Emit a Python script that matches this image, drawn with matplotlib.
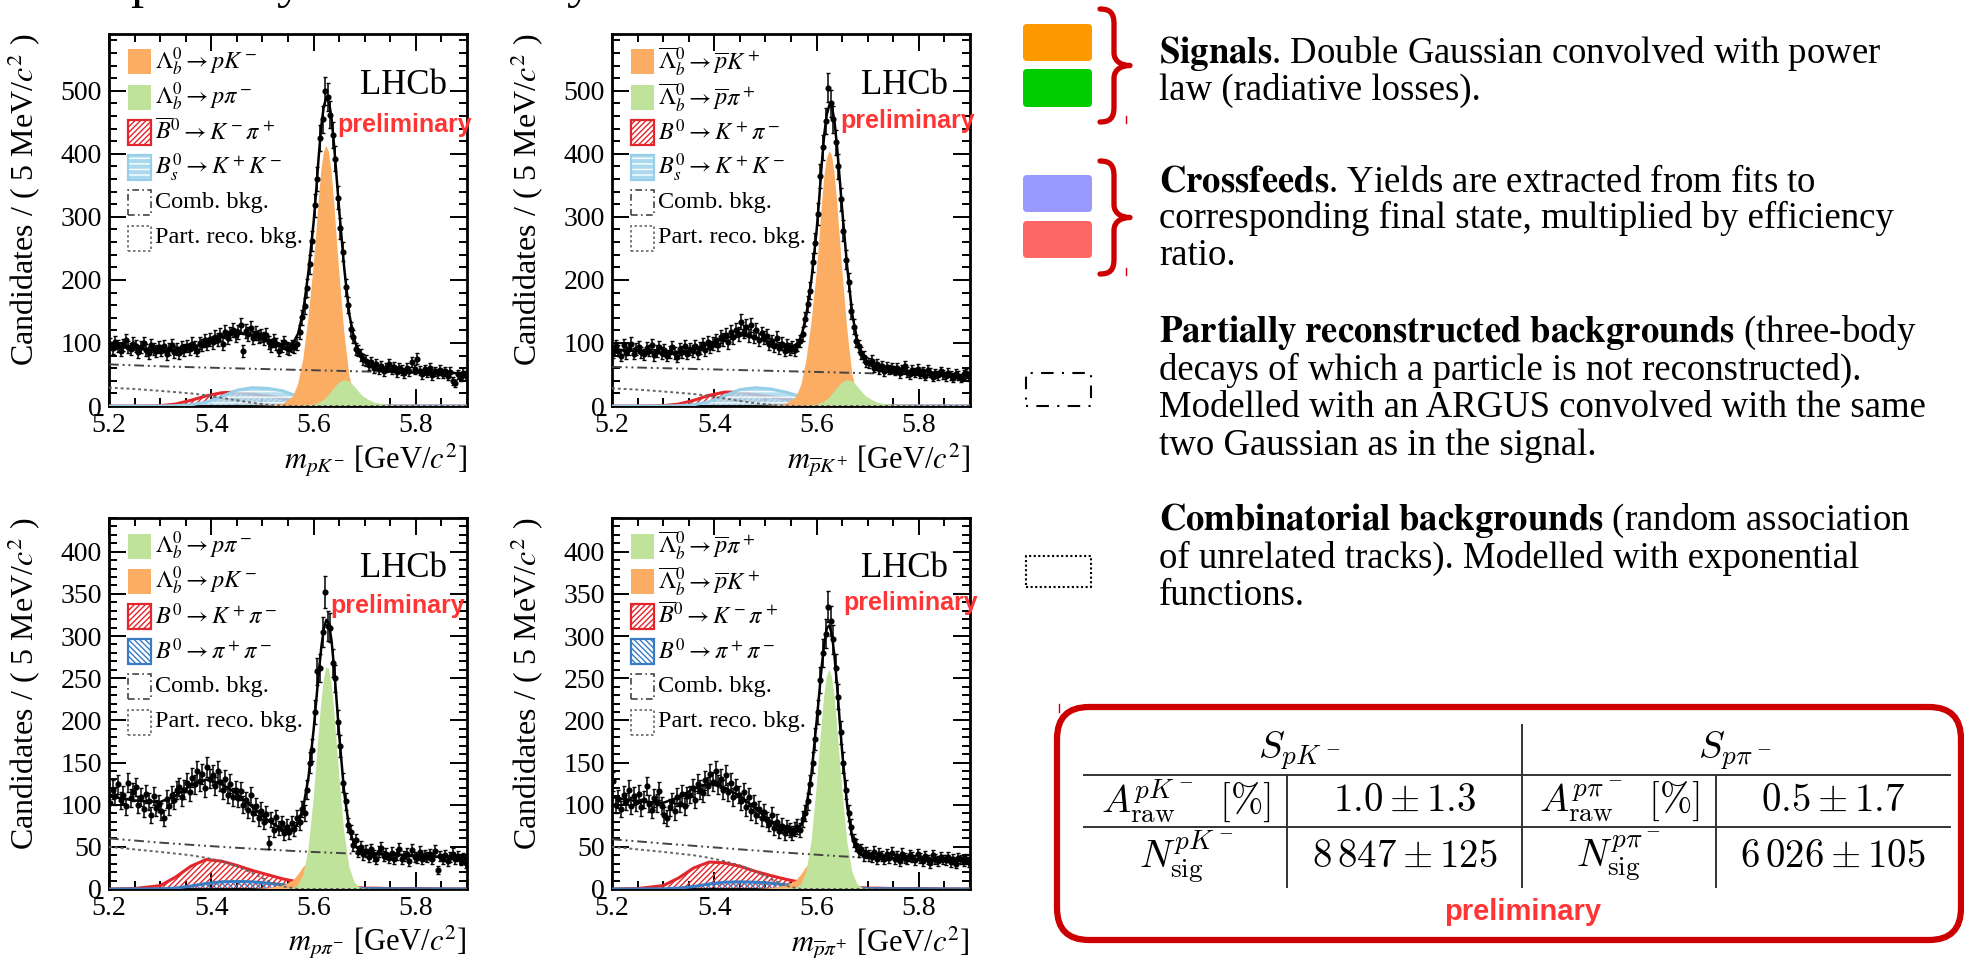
import numpy as np
import matplotlib
matplotlib.use("Agg")
import matplotlib.pyplot as plt
from matplotlib.patches import Rectangle, FancyBboxPatch, PathPatch
from matplotlib.path import Path
from matplotlib.lines import Line2D
from matplotlib.ticker import MultipleLocator
from matplotlib.transforms import IdentityTransform

# ---------------------------------------------------------------- data
mass_grid = [5.20, 5.25, 5.30, 5.33, 5.36, 5.39, 5.42, 5.45, 5.48, 5.51, 5.54,
             5.56, 5.57, 5.58, 5.59, 5.60, 5.605, 5.61, 5.615, 5.62, 5.625,
             5.63, 5.635, 5.64, 5.645, 5.65, 5.66, 5.67, 5.68, 5.69, 5.70,
             5.72, 5.75, 5.80, 5.85, 5.90]
bin_low, bin_width, n_bins = 5.2, 0.005, 140

# top-left: m(pK-)
tl_comb = [66, 64.5, 63, 62.3, 61.6, 60.9, 60.3, 59.7, 59.1, 58.5, 57.9, 57.5, 57.3, 57.1, 56.9, 56.7, 56.6, 56.5, 56.4, 56.3, 56.2, 56.1, 56.0, 55.9, 55.8, 55.7, 55.5, 55.3, 55.1, 54.9, 54.7, 54.3, 53.8, 53.0, 52.5, 52.0]
tl_part = [29, 27, 24, 22, 20, 17, 13, 9, 5, 2, 0.5, 0, 0, 0, 0, 0, 0, 0, 0, 0, 0, 0, 0, 0, 0, 0, 0, 0, 0, 0, 0, 0, 0, 0, 0, 0]
tl_red = [0, 0, 0.5, 3, 9, 16, 21, 22, 19, 16, 12, 9, 8, 7, 6, 5, 4.5, 4, 3.5, 3, 3, 2.5, 2.5, 2, 2, 2, 1.5, 1, 1, 0.5, 0.5, 0.5, 0, 0, 0, 0]
tl_blue = [0, 0, 0, 0.5, 2, 6, 15, 25, 29, 28, 24, 18, 15, 12, 9, 7, 6, 5, 4.5, 4, 3.5, 3, 3, 2.5, 2.5, 2, 2, 1.5, 1, 1, 1, 0.5, 0, 0, 0, 0]
tl_orange = [0, 0, 0, 0, 0, 0, 0, 0, 0, 0.5, 3, 15, 35, 75, 140, 220, 270, 325, 372, 402, 413, 403, 373, 326, 270, 215, 118, 48, 16, 5, 2, 1, 0, 0, 0, 0]
tl_green = [0, 0, 0, 0, 0, 0, 0, 0, 0, 0, 0, 0, 0, 0.5, 1, 2, 3, 5, 7, 10, 13, 18, 23, 28, 33, 37, 41, 39, 31, 21, 13, 5, 1, 0, 0, 0]
tl_data = [98, 92, 101, 95, 88, 97, 104, 93, 90, 99,
           95, 86, 93, 100, 89, 84, 96, 91, 87, 93,
           88, 95, 82, 91, 97, 86, 90, 84, 93, 89,
           95, 90, 99, 93, 88, 100, 97, 104, 98, 106,
           101, 110, 105, 113, 99, 118, 108, 115, 121, 112,
           117, 128, 87, 119, 114, 124, 108, 116, 110, 112,
           107, 113, 101, 96, 104, 98, 88, 95, 101, 92,
           90, 95, 93, 99, 117, 141, 158, 187, 225, 262,
           318, 360, 425, 455, 500, 490, 462, 430, 392, 330,
           282, 245, 188, 160, 122, 110, 90, 88, 81, 74,
           72, 65, 70, 60, 67, 58, 63, 55, 61, 66,
           58, 62, 54, 60, 57, 52, 61, 55, 70, 58,
           75, 56, 50, 58, 53, 60, 49, 55, 52, 57,
           51, 55, 48, 54, 40, 36, 50, 46, 53, 49]

# top-right: m(pbar K+)
tr_comb = [62, 61, 60, 59.4, 58.8, 58.2, 57.6, 57.0, 56.4, 55.8, 55.2, 54.8, 54.6, 54.4, 54.2, 54.0, 53.9, 53.8, 53.7, 53.6, 53.5, 53.4, 53.3, 53.2, 53.1, 53.0, 52.8, 52.6, 52.4, 52.2, 52.0, 51.6, 51.0, 50.0, 49.0, 48.0]
tr_part = [28, 26, 23, 21, 19, 16, 12, 8, 4.5, 2, 0.5, 0, 0, 0, 0, 0, 0, 0, 0, 0, 0, 0, 0, 0, 0, 0, 0, 0, 0, 0, 0, 0, 0, 0, 0, 0]
tr_red = [0, 0, 0.5, 3, 9, 17, 22, 22, 18, 15, 11, 8.5, 7.5, 6.5, 5.5, 5, 4.5, 4, 3.5, 3, 3, 2.5, 2.5, 2, 2, 2, 1.5, 1, 1, 0.5, 0.5, 0.5, 0, 0, 0, 0]
tr_blue = [0, 0, 0, 0.5, 2, 7, 16, 26, 29, 27, 22, 17, 14, 11, 8.5, 7, 6, 5, 4.5, 4, 3.5, 3, 3, 2.5, 2.5, 2, 2, 1.5, 1, 1, 1, 0.5, 0, 0, 0, 0]
tr_orange = [0, 0, 0, 0, 0, 0, 0, 0, 0, 0.5, 3, 14, 33, 72, 132, 210, 260, 315, 362, 392, 404, 398, 370, 326, 272, 218, 122, 50, 17, 5, 2, 1, 0, 0, 0, 0]
tr_green = [0, 0, 0, 0, 0, 0, 0, 0, 0, 0, 0, 0, 0, 0.5, 1, 2, 3, 5, 7, 10, 13, 18, 23, 28, 33, 37, 41, 39, 31, 21, 13, 5, 1, 0, 0, 0]
tr_data = [86, 95, 88, 80, 97, 84, 91, 99, 83, 90,
           94, 85, 82, 92, 88, 96, 81, 87, 93, 84,
           89, 80, 86, 93, 84, 78, 91, 86, 95, 83,
           90, 87, 95, 84, 92, 98, 89, 101, 94, 99,
           104, 97, 110, 106, 113, 101, 117, 109, 120, 114,
           134, 118, 126, 112, 129, 110, 121, 105, 115, 109,
           111, 98, 103, 95, 108, 92, 99, 88, 96, 90,
           94, 89, 97, 103, 114, 138, 162, 183, 228, 258,
           305, 365, 410, 452, 505, 480, 455, 418, 380, 328,
           278, 232, 197, 150, 126, 103, 95, 84, 78, 70,
           68, 72, 61, 66, 59, 64, 55, 62, 58, 60,
           56, 61, 52, 58, 63, 54, 50, 57, 53, 59,
           51, 55, 48, 57, 53, 46, 52, 49, 55, 50,
           47, 53, 49, 45, 51, 48, 44, 50, 52, 47]

# bottom-left: m(p pi-)
bl_comb = [60, 57.5, 55, 53.7, 52.4, 51.2, 50.0, 48.9, 47.8, 46.8, 45.8, 45.1, 44.8, 44.5, 44.2, 43.9, 43.8, 43.7, 43.5, 43.4, 43.3, 43.2, 43.0, 42.9, 42.8, 42.7, 42.4, 42.1, 41.9, 41.6, 41.4, 40.9, 40.2, 39.1, 38.0, 37.0]
bl_part = [50, 47, 44, 42, 40, 37, 33, 27, 19, 10, 3, 1, 0, 0, 0, 0, 0, 0, 0, 0, 0, 0, 0, 0, 0, 0, 0, 0, 0, 0, 0, 0, 0, 0, 0, 0]
bl_red = [0, 0.5, 4, 14, 27, 35, 33, 28, 22, 17, 12, 9.5, 8.5, 7.5, 6.5, 5.5, 5, 4.5, 4, 4, 3.5, 3.5, 3, 3, 2.5, 2.5, 2, 2, 1.5, 1.5, 1, 1, 0.5, 0.5, 0, 0]
bl_blue = [0, 0, 0.2, 1, 3.5, 6.5, 8.5, 9, 8.5, 7, 5, 4, 3.5, 3, 2.5, 2, 2, 1.8, 1.6, 1.5, 1.4, 1.3, 1.2, 1.1, 1.0, 1.0, 0.8, 0.7, 0.6, 0.5, 0.5, 0.4, 0.3, 0.2, 0.1, 0]
bl_orange = [0, 0, 0, 0, 0, 0, 0, 0, 0, 1, 4, 10, 17, 26, 32, 31, 27, 22, 17, 12, 8, 5.5, 4, 2.5, 1.5, 1, 0.5, 0, 0, 0, 0, 0, 0, 0, 0, 0]
bl_green = [0, 0, 0, 0, 0, 0, 0, 0, 0, 0, 0, 1, 4.5, 16.5, 47, 106, 144, 184, 220, 248, 263, 261, 244, 214, 176, 136, 68, 26, 8, 2, 0.3, 0, 0, 0, 0, 0]
bl_data = [102, 118, 110, 124, 105, 112, 98, 126, 108, 115,
           121, 100, 109, 95, 113, 104, 88, 110, 96, 101,
           92, 84, 107, 98, 112, 105, 117, 121, 109, 118,
           126, 115, 132, 124, 140, 128, 136, 120, 145, 131,
           135, 122, 140, 127, 118, 130, 112, 125, 109, 117,
           108, 116, 100, 105, 94, 111, 90, 98, 84, 93,
           80, 89, 55, 82, 70, 85, 72, 78, 66, 74,
           68, 78, 71, 84, 79, 95, 90, 118, 150, 165,
           210, 258, 262, 305, 352, 312, 310, 268, 250, 198,
           170, 126, 104, 76, 68, 52, 58, 44, 50, 41,
           45, 38, 47, 40, 36, 44, 49, 39, 42, 37,
           43, 36, 41, 48, 35, 39, 42, 33, 46, 38,
           37, 44, 35, 40, 38, 41, 36, 45, 22, 39,
           36, 40, 33, 38, 42, 35, 39, 34, 37, 31]

# bottom-right: m(pbar pi+)
br_comb = [59, 56.5, 54, 52.6, 51.2, 49.8, 48.4, 47.0, 45.7, 44.4, 43.1, 42.3, 41.9, 41.5, 41.1, 40.7, 40.5, 40.3, 40.1, 39.9, 39.7, 39.5, 39.3, 39.1, 38.9, 38.7, 38.4, 38.1, 37.8, 37.5, 37.2, 36.6, 35.8, 34.6, 33.6, 32.8]
br_part = [50, 47, 44, 42, 40, 37, 33, 28, 21, 12, 4, 1, 0, 0, 0, 0, 0, 0, 0, 0, 0, 0, 0, 0, 0, 0, 0, 0, 0, 0, 0, 0, 0, 0, 0, 0]
br_red = [0, 0.5, 4, 13, 25, 32, 31, 27, 21, 16, 11.5, 9, 8, 7, 6, 5.5, 5, 4.5, 4, 4, 3.5, 3.5, 3, 3, 2.5, 2.5, 2, 2, 1.5, 1.5, 1, 1, 0.5, 0.5, 0, 0]
br_blue = [0, 0, 0.2, 1, 3, 6, 8, 8.5, 8, 7, 5, 4, 3.5, 3, 2.5, 2, 2, 1.8, 1.6, 1.5, 1.4, 1.3, 1.2, 1.1, 1.0, 1.0, 0.8, 0.7, 0.6, 0.5, 0.5, 0.4, 0.3, 0.2, 0.1, 0]
br_orange = [0, 0, 0, 0, 0, 0, 0, 0, 0, 1, 4, 10, 17, 26, 31, 30, 26, 21, 16, 12, 8, 5.5, 4, 2.5, 1.5, 1, 0.5, 0, 0, 0, 0, 0, 0, 0, 0, 0]
br_green = [0, 0, 0, 0, 0, 0, 0, 0, 0, 0, 0.5, 1.5, 5.5, 20, 56, 120, 157, 196, 229, 252, 260, 252, 229, 196, 157, 120, 56, 20, 5.5, 1.5, 0.3, 0, 0, 0, 0, 0]
br_data = [128, 100, 107, 95, 112, 104, 118, 99, 110, 103,
           113, 97, 106, 122, 101, 94, 108, 102, 116, 99,
           88, 84, 97, 104, 92, 109, 101, 113, 98, 110,
           112, 120, 106, 125, 118, 114, 129, 122, 136, 127,
           140, 124, 131, 118, 135, 115, 126, 109, 120, 112,
           104, 115, 97, 109, 92, 101, 88, 95, 84, 91,
           82, 77, 88, 72, 80, 69, 75, 66, 73, 70,
           66, 71, 74, 70, 83, 90, 104, 124, 150, 178,
           210, 248, 280, 303, 335, 318, 296, 262, 228, 186,
           150, 118, 90, 74, 58, 52, 45, 47, 40, 43,
           40, 38, 44, 36, 42, 39, 35, 41, 37, 43,
           36, 39, 33, 42, 37, 35, 40, 38, 34, 41,
           37, 33, 39, 35, 31, 40, 36, 33, 38, 35,
           34, 38, 32, 36, 30, 37, 35, 33, 36, 32]

tl_labels = [r'$\mathit{\Lambda}_b^0 \rightarrow pK^-$', r'$\mathit{\Lambda}_b^0 \rightarrow p\pi^-$',
             r'$\overline{B}^0 \rightarrow K^-\pi^+$', r'$B_s^0 \rightarrow K^+K^-$',
             'Comb. bkg.', 'Part. reco. bkg.']
tr_labels = [r'$\overline{\mathit{\Lambda}}_b^0 \rightarrow \overline{p}K^+$',
             r'$\overline{\mathit{\Lambda}}_b^0 \rightarrow \overline{p}\pi^+$',
             r'$B^0 \rightarrow K^+\pi^-$', r'$B_s^0 \rightarrow K^+K^-$',
             'Comb. bkg.', 'Part. reco. bkg.']
bl_labels = [r'$\mathit{\Lambda}_b^0 \rightarrow p\pi^-$', r'$\mathit{\Lambda}_b^0 \rightarrow pK^-$',
             r'$B^0 \rightarrow K^+\pi^-$', r'$B^0 \rightarrow \pi^+\pi^-$',
             'Comb. bkg.', 'Part. reco. bkg.']
br_labels = [r'$\overline{\mathit{\Lambda}}_b^0 \rightarrow \overline{p}\pi^+$',
             r'$\overline{\mathit{\Lambda}}_b^0 \rightarrow \overline{p}K^+$',
             r'$\overline{B}^0 \rightarrow K^-\pi^+$', r'$B^0 \rightarrow \pi^+\pi^-$',
             'Comb. bkg.', 'Part. reco. bkg.']
tl_xlabel = r'$m_{pK^{-}}$ [GeV/$c^2$]'
tr_xlabel = r'$m_{\overline{p}K^{+}}$ [GeV/$c^2$]'
bl_xlabel = r'$m_{p\pi^{-}}$ [GeV/$c^2$]'
br_xlabel = r'$m_{\overline{p}\pi^{+}}$ [GeV/$c^2$]'
ylabel_text = r'Candidates / ( 5 MeV/$c^2$ )'

table_header = [r'$S_{pK^-}$', r'$S_{p\pi^-}$']
table_row1 = [r'$A^{pK^-}_{\mathrm{raw}}\;\;[\%]$', r'$1.0 \pm 1.3$',
              r'$A^{p\pi^-}_{\mathrm{raw}}\;\;[\%]$', r'$0.5 \pm 1.7$']
table_row2 = [r'$N^{pK^-}_{\mathrm{sig}}$', r'$8\,847 \pm 125$',
              r'$N^{p\pi^-}_{\mathrm{sig}}$', r'$6\,026 \pm 105$']

signals_lines = [r'$\mathbf{Signals}$. Double Gaussian convolved with power',
                 'law (radiative losses).']
crossfeed_lines = [r'$\mathbf{Crossfeeds}$. Yields are extracted from fits to',
                   'corresponding final state, multiplied by efficiency', 'ratio.']
partreco_lines = [r'$\mathbf{Partially\ reconstructed\ backgrounds}$ (three-body',
                  'decays of which a particle is not reconstructed).',
                  'Modelled with an ARGUS convolved with the same',
                  'two Gaussian as in the signal.']
comb_lines = [r'$\mathbf{Combinatorial\ backgrounds}$ (random association',
              'of unrelated tracks). Modelled with exponential', 'functions.']

# ---------------------------------------------------------------- style
plt.rcParams['font.family'] = ['Liberation Serif', 'DejaVu Serif']
plt.rcParams['mathtext.fontset'] = 'stix'
plt.rcParams['hatch.linewidth'] = 1.0

ORANGE = '#fbad63'
GREEN = '#bfe39a'
RED = '#e3262b'
LBLUE = '#aad9ef'
LBLUE_LINE = '#98cfe8'
BLUE = '#3a7cc3'
PREL = '#ff3535'
BRACE = '#cc0000'

W, H = 1964, 958
fig = plt.figure(figsize=(W / 100, H / 100), dpi=100)
ID = IdentityTransform()


def P(x, y):
    return (x, H - y)


def ax_at(x0, y0, x1, y1):
    return fig.add_axes([x0 / W, 1 - y1 / H, (x1 - x0) / W, (y1 - y0) / H])


centers = bin_low + bin_width * (np.arange(n_bins) + 0.5)


def draw_panel(ax, comps, data, labels, kind, ymax, ymaj, ymin_, xlabel, lhcb_x):
    comb, part, red, blue, orange, green = [np.array(c, float) for c in comps]
    x = np.array(mass_grid)
    ax.fill_between(x, 0, red, facecolor='none', edgecolor=RED, hatch='//////',
                    linewidth=0, zorder=2)
    ax.plot(x, red, color=RED, lw=2.2, zorder=2.2)
    if kind == 'top':
        ax.fill_between(x, 0, blue, facecolor=LBLUE, edgecolor='white', hatch='---',
                        linewidth=0, alpha=0.85, zorder=2.5)
        ax.plot(x, blue, color=LBLUE_LINE, lw=2.2, zorder=2.6)
    else:
        ax.fill_between(x, 0, blue, facecolor='none', edgecolor=BLUE, hatch='\\\\\\\\\\\\',
                        linewidth=0, zorder=2.5)
        ax.plot(x, blue, color=BLUE, lw=2.2, zorder=2.6)
    ax.fill_between(x, 0, orange, facecolor=ORANGE, edgecolor='none', lw=0, zorder=3.2)
    ax.fill_between(x, 0, green, facecolor=GREEN, edgecolor='none', lw=0, zorder=3.4)
    ax.plot(x, comb, color='#444444', lw=1.4, ls=(0, (5, 2, 1, 2, 1, 2)), zorder=4)
    ax.plot(x, part, color='#666666', lw=1.4, ls=(0, (1.5, 1.5)), zorder=4)
    total = comb + part + red + blue + orange + green
    ax.plot(x, total, color='k', lw=1.8, zorder=5)
    d = np.array(data, float)
    ax.errorbar(centers, d, yerr=np.sqrt(d), fmt='o', ms=3.4, color='k', ecolor='k',
                elinewidth=1.1, capsize=1.6, capthick=1.0, zorder=6)

    ax.set_xlim(5.2, 5.9)
    ax.set_ylim(0, ymax)
    ax.xaxis.set_major_locator(MultipleLocator(0.2))
    ax.xaxis.set_minor_locator(MultipleLocator(0.05))
    ax.yaxis.set_major_locator(MultipleLocator(ymaj))
    ax.yaxis.set_minor_locator(MultipleLocator(ymin_))
    ax.tick_params(which='both', direction='in', top=True, right=True, width=1.4)
    ax.tick_params(which='major', length=12, labelsize=20, pad=5)
    ax.tick_params(which='minor', length=6)
    for s in ax.spines.values():
        s.set_linewidth(2)
    ax.set_ylabel(ylabel_text, fontsize=23, loc='top')
    ax.yaxis.set_label_coords(-0.185, 1.0)
    ax.set_xlabel(xlabel, fontsize=22, loc='right')
    ax.xaxis.set_label_coords(1.0, -0.095)
    ax.text(lhcb_x, 0.84, 'LHCb', transform=ax.transAxes, ha='right', va='baseline',
            fontsize=25, zorder=8)

    # legend
    bb = ax.get_position()
    wpx, hpx = bb.width * W, bb.height * H
    first = 28 / hpx
    step = 35.2 / hpx
    pw, ph = 23 / wpx, 25 / hpx
    styles = ['orange', 'green', 'red', 'lblue', 'comb', 'part'] if kind == 'top' else \
             ['green', 'orange', 'red', 'blue', 'comb', 'part']
    for i, (lab, st) in enumerate(zip(labels, styles)):
        yc = 1 - first - i * step
        x0 = 19 / wpx
        r = dict(transform=ax.transAxes, zorder=7, clip_on=False)
        if st == 'orange':
            ax.add_patch(Rectangle((x0, yc - ph / 2), pw, ph, facecolor=ORANGE, edgecolor='none', **r))
        elif st == 'green':
            ax.add_patch(Rectangle((x0, yc - ph / 2), pw, ph, facecolor=GREEN, edgecolor='none', **r))
        elif st == 'red':
            ax.add_patch(Rectangle((x0, yc - ph / 2), pw, ph, facecolor='white', edgecolor=RED,
                                   hatch='//////', lw=1.6, **r))
        elif st == 'lblue':
            ax.add_patch(Rectangle((x0, yc - ph / 2), pw, ph, facecolor=LBLUE, edgecolor='white',
                                   hatch='---', lw=0, **r))
            ax.add_patch(Rectangle((x0, yc - ph / 2), pw, ph, facecolor='none', edgecolor=LBLUE_LINE,
                                   lw=1.6, **r))
        elif st == 'blue':
            ax.add_patch(Rectangle((x0, yc - ph / 2), pw, ph, facecolor='white', edgecolor=BLUE,
                                   hatch='\\\\\\\\\\\\', lw=1.6, **r))
        elif st == 'comb':
            ax.add_patch(Rectangle((x0, yc - ph / 2), pw, ph, facecolor='none', edgecolor='#444444',
                                   lw=1.2, ls=(0, (4, 2, 1, 2)), **r))
        else:
            ax.add_patch(Rectangle((x0, yc - ph / 2), pw, ph, facecolor='none', edgecolor='#666666',
                                   lw=1.2, ls=(0, (1.5, 1.5)), **r))
        ax.text(46 / wpx, yc, lab, transform=ax.transAxes, ha='left', va='center',
                fontsize=17.5, zorder=8)


ax_tl = ax_at(109, 34, 467, 406)
ax_tr = ax_at(612, 34, 970, 406)
ax_bl = ax_at(109, 518, 467, 889)
ax_br = ax_at(612, 518, 970, 889)

draw_panel(ax_tl, [tl_comb, tl_part, tl_red, tl_blue, tl_orange, tl_green], tl_data, tl_labels,
           'top', 590, 100, 20, tl_xlabel, 0.944)
draw_panel(ax_tr, [tr_comb, tr_part, tr_red, tr_blue, tr_orange, tr_green], tr_data, tr_labels,
           'top', 590, 100, 20, tr_xlabel, 0.939)
draw_panel(ax_bl, [bl_comb, bl_part, bl_red, bl_blue, bl_orange, bl_green], bl_data, bl_labels,
           'bottom', 440, 50, 10, bl_xlabel, 0.944)
draw_panel(ax_br, [br_comb, br_part, br_red, br_blue, br_orange, br_green], br_data, br_labels,
           'bottom', 440, 50, 10, br_xlabel, 0.939)

# "preliminary" stamps
for (px, py) in [(337, 132), (840, 128), (330, 613), (843, 610)]:
    fig.text(px, H - py, 'preliminary', transform=ID, ha='left', va='baseline',
             fontsize=18, fontweight='bold', family=['Liberation Sans', 'DejaVu Sans'],
             color=PREL, zorder=10)

# cropped title glyphs at the very top
for (px, g) in [(143, 'p'), (290, 'y'), (580, 'y')]:
    fig.text(px, H + 3, g, transform=ID, ha='center', va='baseline', fontsize=38)

# ---------------------------------------------------------------- right side
def square(x0, y0, x1, y1, color):
    fig.add_artist(FancyBboxPatch(P(x0, y1), x1 - x0, y1 - y0,
                                  boxstyle='round,pad=0,rounding_size=4',
                                  facecolor=color, edgecolor='none', transform=ID))


square(1023, 24, 1092, 61, '#ff9900')
square(1023, 69, 1092, 107, '#00cc00')
square(1023, 175, 1092, 212, '#9999ff')
square(1023, 221, 1092, 258, '#ff6666')


def brace(xl, xm, xr, y0, y1):
    ym = (y0 + y1) / 2
    verts = [P(xl, y0), P(xm - 4, y0), P(xm, y0 + 4), P(xm, y0 + 15),
             P(xm, ym - 13),
             P(xm, ym - 3), P(xr - 7, ym), P(xr, ym),
             P(xr - 7, ym), P(xm, ym + 3), P(xm, ym + 13),
             P(xm, y1 - 15),
             P(xm, y1 - 4), P(xm - 4, y1), P(xl, y1)]
    codes = [Path.MOVETO, Path.CURVE4, Path.CURVE4, Path.CURVE4, Path.LINETO,
             Path.CURVE4, Path.CURVE4, Path.CURVE4, Path.CURVE4, Path.CURVE4, Path.CURVE4,
             Path.LINETO, Path.CURVE4, Path.CURVE4, Path.CURVE4]
    fig.add_artist(PathPatch(Path(verts, codes), facecolor='none', edgecolor=BRACE,
                             lw=3.8, capstyle='round', joinstyle='round', transform=ID))


brace(1100, 1114, 1130, 9, 122)
brace(1100, 1114, 1130, 161, 274)

for (x, ya, yb) in [(1126, 116, 123), (1126, 268, 275), (1059, 704, 712)]:
    fig.add_artist(Line2D([x, x], [H - ya, H - yb], color=BRACE, lw=1, transform=ID))

fig.add_artist(Rectangle(P(1026, 406), 65, 33, facecolor='none', edgecolor='k', lw=1.5,
                         ls=(0, (1, 4, 6, 4)), transform=ID))
fig.add_artist(Rectangle(P(1026, 587), 65, 31, facecolor='none', edgecolor='k', lw=1.5,
                         ls=(0, (1, 1.2)), transform=ID))

TXT = dict(transform=ID, ha='left', va='baseline', fontsize=26.5)
for lines, ys in [(signals_lines, [63, 100]), (crossfeed_lines, [192, 228, 265]),
                  (partreco_lines, [342, 380, 417, 455]), (comb_lines, [530, 568, 605])]:
    for s, y in zip(lines, ys):
        fig.text(1159, H - y, s, **TXT)

# ---------------------------------------------------------------- table
fig.add_artist(FancyBboxPatch(P(1057, 940), 1961 - 1057, 940 - 707,
                              boxstyle='round,pad=0,rounding_size=32',
                              facecolor='none', edgecolor=BRACE, lw=4.5, transform=ID))
LC = '#333333'
for y in (775, 827):
    fig.add_artist(Line2D([1084, 1950], [H - y, H - y], color=LC, lw=1.4, transform=ID))
fig.add_artist(Line2D([1522, 1522], [H - 725, H - 887], color=LC, lw=1.4, transform=ID))
for x in (1287, 1716):
    fig.add_artist(Line2D([x, x], [H - 775, H - 887], color=LC, lw=1.4, transform=ID))

TT = dict(transform=ID, ha='center', va='center', fontsize=28, math_fontfamily='cm')
fig.text(1299, H - 751, table_header[0], **TT)
fig.text(1735, H - 751, table_header[1], **TT)
for s, x in zip(table_row1, [1186, 1405, 1619, 1833]):
    fig.text(x, H - 801, s, **TT)
for s, x in zip(table_row2, [1186, 1405, 1619, 1833]):
    fig.text(x, H - 857, s, **TT)
fig.text(1523, H - 912, 'preliminary', transform=ID, ha='center', va='center', fontsize=21,
         fontweight='bold', family=['Liberation Sans', 'DejaVu Sans'], color=PREL)

fig.savefig('out.png', dpi=100)
